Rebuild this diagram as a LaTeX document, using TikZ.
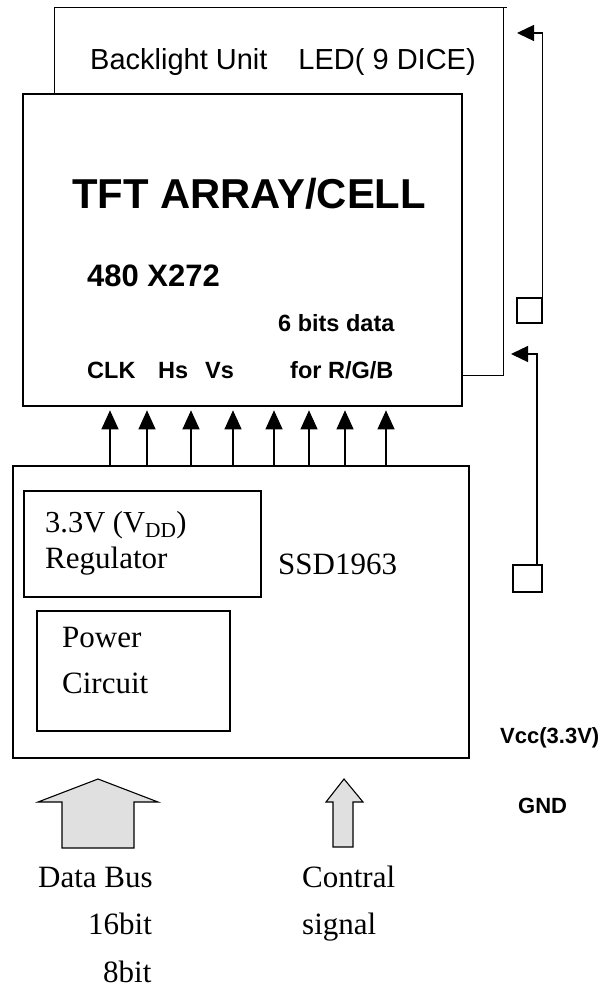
\documentclass[tikz,border=0pt]{standalone}
\usepackage{fontspec}
\setmainfont{Liberation Serif}
\setsansfont{Liberation Sans}
\usetikzlibrary{arrows.meta}

\begin{document}
\begin{tikzpicture}[x=1pt,y=-1pt,
  thickbox/.style={draw,line width=2.6pt,inner sep=0pt},
  thinbox/.style={draw,line width=1.1pt,inner sep=0pt},
  lbl/.style={anchor=base west,inner sep=0pt},
  tftlbl/.style={lbl,font=\sffamily\bfseries\fontsize{23.5}{28}\selectfont},
  serif/.style={lbl,font=\fontsize{31}{36}\selectfont},
  buslink/.style={line width=1.1pt,-{Triangle[length=19pt,width=17pt]}},
  sidelink/.style={line width=1.3pt,-{Triangle[length=17pt,width=16pt]}},
  blockarrow/.style={draw,line width=1.1pt,fill=black!12}]
  \useasboundingbox (0,0) rectangle (605,990);
  % backlight unit behind the panel
  \coordinate (blnw) at (54,8);
  \coordinate (blne) at (503,8);
  \coordinate (blse) at (503,375);
  \node[lbl,font=\sffamily\fontsize{29}{34}\selectfont] (bltext) at (90,70) {Backlight Unit\hspace{31pt}LED( 9 DICE)};
  % panel and controller
  \node[thickbox,minimum width=439pt,minimum height=312pt] (tft) at (242.5,250) {};
  \node[thickbox,minimum width=456pt,minimum height=292pt] (ssd) at (241,612) {};
  \node[thinbox,minimum width=237pt,minimum height=106pt] (reg) at (142.5,544) {};
  \node[draw,line width=2.3pt,inner sep=0pt,minimum width=193pt,minimum height=120pt] (pwr) at (133.5,671) {};
  \draw[line width=1pt] (blnw |- tft.north) -- (blnw) -- ([xshift=4pt]blne);
  \draw[line width=1pt] (blne) -- (blse) -- (blse -| tft.east);
  % panel texts
  \node[lbl,font=\sffamily\bfseries\fontsize{41.8}{48}\selectfont] (tftname) at (72,208) {TFT ARRAY/CELL};
  \node[lbl,font=\sffamily\bfseries\fontsize{31}{36}\selectfont] (res) at (87,286) {480 X272};
  \node[tftlbl] (bits) at (278,331) {6 bits data};
  \node[tftlbl] (clk) at (87,378) {CLK};
  \node[tftlbl] (hs) at (158,378) {Hs};
  \node[tftlbl] (vs) at (205,378) {Vs};
  \node[tftlbl] (rgb) at (290,378) {for R/G/B};
  % controller texts
  \node[serif,font=\fontsize{30.5}{36}\selectfont] (vdd) at (45,532) {3.3V (V\textsubscript{DD})};
  \node[serif] (regname) at (45,568) {Regulator};
  \node[serif] (ssdname) at (278,574) {SSD1963};
  \node[serif] (power) at (62,647) {Power};
  \node[serif] (circuit) at (62,693) {Circuit};
  % signals from controller to panel
  \foreach \x [count=\i] in {110,147,191,233,274,309,345,386}{
    \coordinate (b\i) at (\x,0);
    \draw[buslink,shorten >=3pt] (ssd.north -| b\i) -- (tft.south -| b\i);
  }
  % backlight supply
  \node[draw,line width=1.2pt,inner sep=0pt,minimum width=25pt,minimum height=25pt] (sq1) at (529.5,310.5) {};
  \node[draw,line width=1.2pt,inner sep=0pt,minimum width=29pt,minimum height=27pt] (sq2) at (527.5,578.5) {};
  \coordinate (tip1) at (517,33);
  \coordinate (tip2) at (511,354);
  \coordinate (turn2) at (537,354);
  \draw[sidelink] (sq1.north east) |- (tip1);
  \draw[sidelink] (sq2.north -| turn2) -- (turn2) -- (tip2);
  \node[lbl,font=\sffamily\bfseries\fontsize{22}{26}\selectfont] (vcc) at (500,743) {Vcc(3.3V)};
  \node[lbl,font=\sffamily\bfseries\fontsize{22}{26}\selectfont] (gnd) at (518,813) {GND};
  % inputs
  \draw[blockarrow] (98,779) -- (158,802) -- (134,802) -- (134,848) -- (62,848) -- (62,802) -- (38,802) -- cycle;
  \draw[blockarrow] (344,779) -- (363,802) -- (353,802) -- (353,847) -- (333,847) -- (333,802) -- (326,802) -- cycle;
  \node[serif] (bus) at (38,887) {Data Bus};
  \node[serif] (b16) at (88,934) {16bit};
  \node[serif] (b8) at (103,982) {8bit};
  \node[serif] (ctrl) at (302,887) {Contral};
  \node[serif] (sig) at (302,934) {signal};
\end{tikzpicture}
\end{document}
